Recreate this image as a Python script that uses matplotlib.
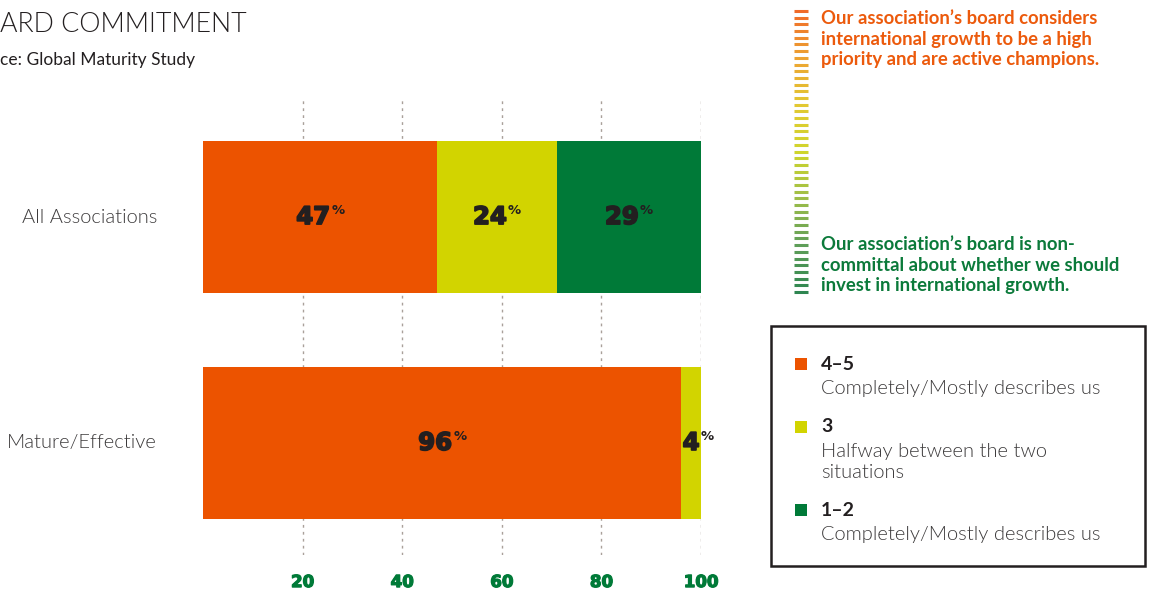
import matplotlib.patheffects as pe
import matplotlib.pyplot as plt
import numpy as np
from matplotlib.colors import LinearSegmentedColormap
from matplotlib.patches import Rectangle

# survey shares per group, stacked left to right
groups = ["All Associations", "Mature/Effective"]
share_high = [47, 96]   # 4-5
share_mid = [24, 4]     # 3
share_low = [29, 0]     # 1-2
ticks = [20, 40, 60, 80, 100]

legend_heads = ["4\u20135", "3", "1\u20132"]
legend_descs = [
    "Completely/Mostly describes us",
    "Halfway between the two\nsituations",
    "Completely/Mostly describes us",
]

ORANGE = "#ec5300"
YELLOW = "#d2d400"
GREEN = "#007a38"
INK = "#231f20"
GREY = "#3c3a3b"

plt.rcParams["font.family"] = ["Lato", "DejaVu Sans"]

fig = plt.figure(figsize=(11.52, 5.9), dpi=100)

# overlay in pixel coordinates for the annotations around the chart
ov = fig.add_axes([0, 0, 1, 1])
ov.set_xlim(0, 1152)
ov.set_ylim(590, 0)
ov.axis("off")

ax = fig.add_axes([203 / 1152, 35 / 590, 498 / 1152, 455 / 590])
ax.patch.set_alpha(0)

heavy = [pe.withStroke(linewidth=1.3, foreground=INK)]

y = np.arange(len(groups))
h = 0.673
series = [(share_high, ORANGE), (share_mid, YELLOW), (share_low, GREEN)]
left = np.zeros(len(groups))
for vals, col in series:
    vals = np.array(vals, dtype=float)
    ax.barh(y, vals, left=left, height=h, color=col, zorder=2)
    for yi, (l, v) in enumerate(zip(left, vals)):
        if v <= 0:
            continue
        shift = -5 if v >= 10 else 0
        num = ax.annotate(
            f"{v:.0f}", xy=(l + v / 2, yi), xytext=(shift, 0), textcoords="offset points",
            ha="center", va="center", fontsize=17.5, fontweight="heavy", color=INK,
            family=["DejaVu Sans"], zorder=3, path_effects=heavy,
        )
        ax.annotate("%", xy=(1, 1), xycoords=num, xytext=(1, 1), textcoords="offset points",
                    ha="left", va="top", fontsize=9.5, fontweight="bold", color=INK,
                    family=["DejaVu Sans"], zorder=3)
    left = left + vals

ax.set_xlim(0, 100)
ax.set_ylim(1.496, -0.518)
ax.set_xticks(ticks)
ax.set_xticklabels([str(t) for t in ticks], fontsize=12, fontweight="heavy", color=GREEN,
                   family=["DejaVu Sans"])
for t in ax.get_xticklabels():
    t.set_path_effects([pe.withStroke(linewidth=0.9, foreground=GREEN)])
ax.tick_params(axis="x", length=0, pad=13)
ax.set_yticks([])
for s in ax.spines.values():
    s.set_visible(False)
ax.grid(axis="x", color="#a9a09a", linewidth=1, linestyle=(0, (2, 3)), zorder=1)

for yi, g in enumerate(groups):
    ax.text(-9.2, yi, g, ha="right", va="center", fontsize=14.5, fontweight=300, color=GREY)

# header, running off the left edge
ov.text(0, 24, "ARD COMMITMENT", ha="left", va="center", fontsize=19.3, fontweight=300, color=INK)
ov.text(0, 60, "ce: Global Maturity Study", ha="left", va="center", fontsize=12.5, color=INK)

# scale of dashes between the two statements
grad = LinearSegmentedColormap.from_list(
    "scale", ["#f06a28", "#eca432", "#e2c832", "#cfd52c", "#9dbd48", "#5f9e58", "#2e8550"])
dash_y = np.linspace(11, 292, 43)
for i, dy in enumerate(dash_y):
    ov.plot([794, 808], [dy, dy], color=grad(i / (len(dash_y) - 1)), linewidth=2.2,
            solid_capstyle="butt")

ov.text(821, 39, "Our association\u2019s board considers\ninternational growth to be a high\npriority and are active champions.",
        ha="left", va="center", fontsize=13.3, fontweight="bold", color="#ec5a0c", linespacing=1.25)
ov.text(821, 265.5, "Our association\u2019s board is non-\ncommittal about whether we should\ninvest in international growth.",
        ha="left", va="center", fontsize=13.3, fontweight="bold", color="#0b7a3a", linespacing=1.25)

# legend box
ov.add_patch(Rectangle((771, 326), 374, 240, facecolor="white", edgecolor=INK, linewidth=1.8))
head_y = [364, 427, 510]
for (vals, col), hd, ds, hy in zip(series, legend_heads, legend_descs, head_y):
    ov.add_patch(Rectangle((795, hy - 6), 12, 12, facecolor=col, edgecolor="none"))
    ov.text(821, hy, hd, ha="left", va="center", fontsize=14, fontweight="bold", color=INK)
    ov.text(821, hy + 16, ds, ha="left", va="top", fontsize=14.5, fontweight=300,
            color=GREY, linespacing=1.3)

fig.savefig("out.png", dpi=100)
